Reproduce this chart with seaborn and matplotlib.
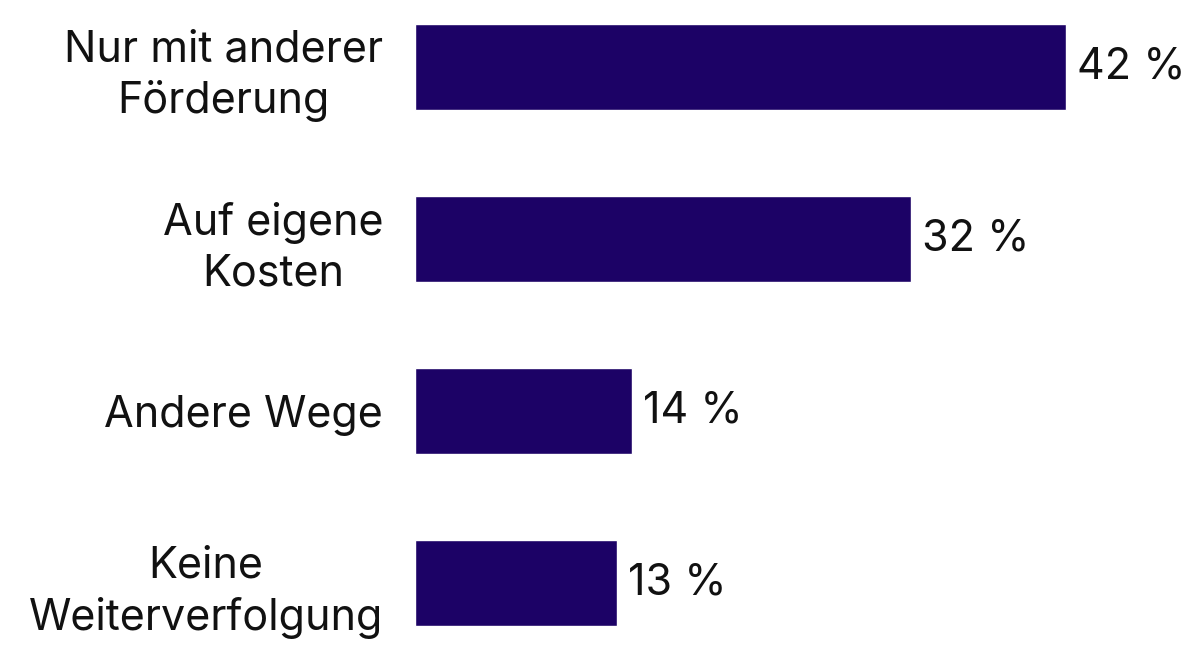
import matplotlib
matplotlib.use("Agg")
import matplotlib.pyplot as plt
import seaborn as sns
import pandas as pd

categories = ["Nur mit anderer\nFörderung", "Auf eigene\nKosten", "Andere Wege", "Keine\nWeiterverfolgung"]
values = [42, 32, 14, 13]
bar_color = "#1c0266"

df = pd.DataFrame({"kategorie": categories, "anteil": values})

sns.set_theme(style="white")
plt.rcParams["font.family"] = ["Inter", "DejaVu Sans"]

fig = plt.figure(figsize=(12, 6.53), dpi=100)
ax = fig.add_axes([415 / 1200, 0, 785 / 1200, 1])

sns.barplot(data=df, x="anteil", y="kategorie", color=bar_color, width=0.5,
            saturation=1, ax=ax, order=categories)

# Achsen so skalieren, dass die Balken wie im Original liegen
ax.set_xlim(0, 785 / 15.5)
ax.set_ylim(3 + 70 / 172, -0.5 + 19.5 / 172)

ax.bar_label(ax.containers[0], labels=[f"{v} %" for v in values],
             padding=8, fontsize=31, color="#111111")

ax.set_xlabel("")
ax.set_ylabel("")
ax.set_xticks([])
ax.tick_params(axis="y", length=0, pad=23, labelsize=31, labelcolor="#111111")
for lbl in ax.get_yticklabels():
    lbl.set_horizontalalignment("right")
    lbl.set_multialignment("center")
    lbl.set_linespacing(1.3)
sns.despine(ax=ax, left=True, bottom=True)

fig.savefig("out.png", dpi=100, facecolor="white")
